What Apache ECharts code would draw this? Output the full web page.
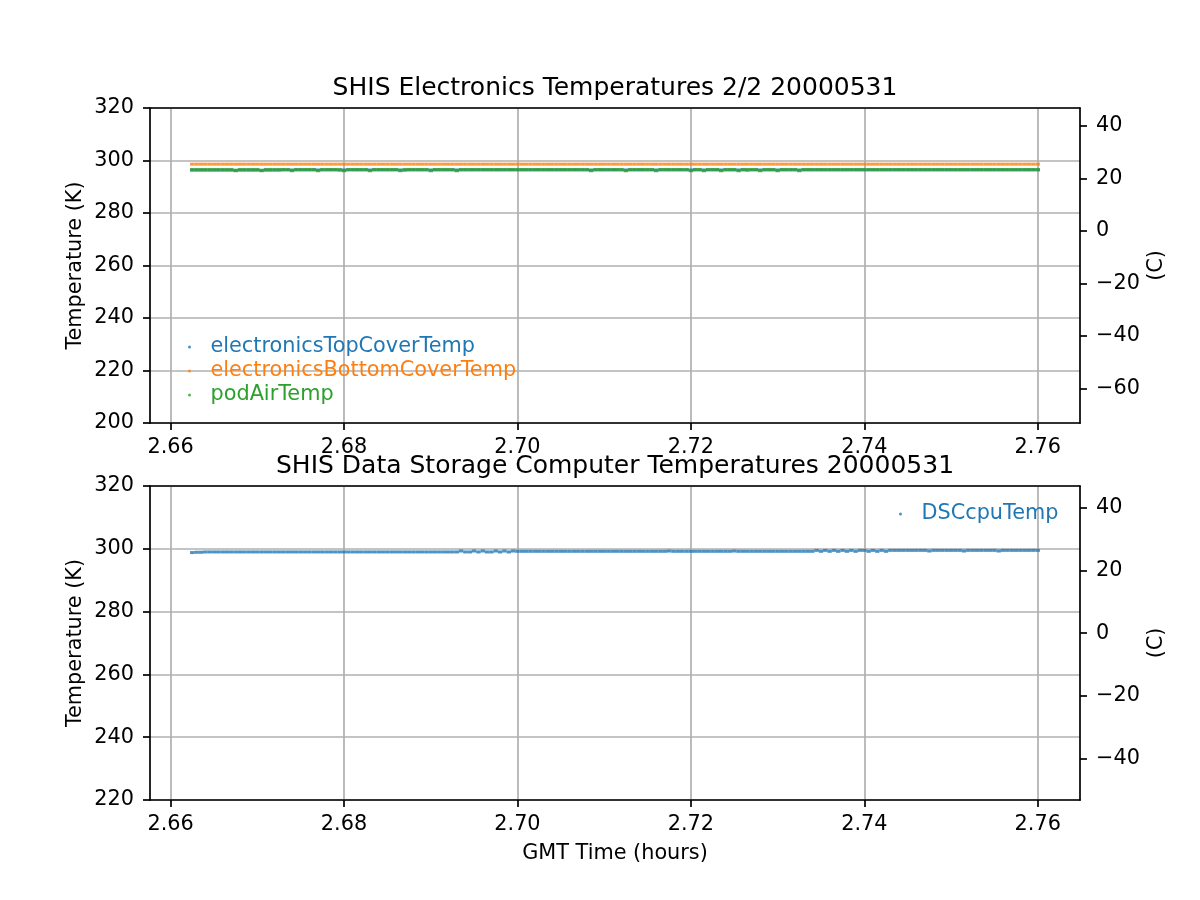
<!DOCTYPE html>
<html>
<head>
<meta charset="utf-8">
<script src="https://cdn.jsdelivr.net/npm/echarts@6/dist/echarts.min.js"></script>
<style>html,body{margin:0;padding:0;background:#fff;}#chart{width:1200px;height:900px;}</style>
</head>
<body>
<div id="chart"></div>
<script>
// ---------- DATA ----------
const titleTop = 'SHIS Electronics Temperatures 2/2 20000531';
const titleBottom = 'SHIS Data Storage Computer Temperatures 20000531';
const xName = 'GMT Time (hours)';
const yNameK = 'Temperature (K)';
const yNameC = '(C)';

const xTicks = [2.66, 2.68, 2.70, 2.72, 2.74, 2.76];
const kTicksTop = [200, 220, 240, 260, 280, 300, 320];
const cTicksTop = [-60, -40, -20, 0, 20, 40];
const kTicksBottom = [220, 240, 260, 280, 300, 320];
const cTicksBottom = [-40, -20, 0, 20, 40];

const times = [
2.6625,2.6630,2.6635,2.6640,2.6645,2.6650,2.6655,2.6660,2.6665,2.6670,
2.6675,2.6680,2.6685,2.6690,2.6695,2.6700,2.6705,2.6710,2.6715,2.6720,
2.6725,2.6730,2.6735,2.6740,2.6745,2.6750,2.6755,2.6760,2.6765,2.6770,
2.6775,2.6780,2.6785,2.6790,2.6795,2.6800,2.6805,2.6810,2.6815,2.6820,
2.6825,2.6830,2.6835,2.6840,2.6845,2.6850,2.6855,2.6860,2.6865,2.6870,
2.6875,2.6880,2.6885,2.6890,2.6895,2.6900,2.6905,2.6910,2.6915,2.6920,
2.6925,2.6930,2.6935,2.6940,2.6945,2.6950,2.6955,2.6960,2.6965,2.6970,
2.6975,2.6980,2.6985,2.6990,2.6995,2.7000,2.7005,2.7010,2.7015,2.7020,
2.7025,2.7030,2.7035,2.7040,2.7045,2.7050,2.7055,2.7060,2.7065,2.7070,
2.7075,2.7080,2.7085,2.7090,2.7095,2.7100,2.7105,2.7110,2.7115,2.7120,
2.7125,2.7130,2.7135,2.7140,2.7145,2.7150,2.7155,2.7160,2.7165,2.7170,
2.7175,2.7180,2.7185,2.7190,2.7195,2.7200,2.7205,2.7210,2.7215,2.7220,
2.7225,2.7230,2.7235,2.7240,2.7245,2.7250,2.7255,2.7260,2.7265,2.7270,
2.7275,2.7280,2.7285,2.7290,2.7295,2.7300,2.7305,2.7310,2.7315,2.7320,
2.7325,2.7330,2.7335,2.7340,2.7345,2.7350,2.7355,2.7360,2.7365,2.7370,
2.7375,2.7380,2.7385,2.7390,2.7395,2.7400,2.7405,2.7410,2.7415,2.7420,
2.7425,2.7430,2.7435,2.7440,2.7445,2.7450,2.7455,2.7460,2.7465,2.7470,
2.7475,2.7480,2.7485,2.7490,2.7495,2.7500,2.7505,2.7510,2.7515,2.7520,
2.7525,2.7530,2.7535,2.7540,2.7545,2.7550,2.7555,2.7560,2.7565,2.7570,
2.7575,2.7580,2.7585,2.7590,2.7595,2.7600
];

const topCoverTemp = [
296.3,296.3,296.3,296.3,296.3,296.3,296.3,296.3,296.3,296.3,
296.3,296.3,296.3,296.3,296.3,296.3,296.3,296.3,296.3,296.3,
296.3,296.4,296.4,296.4,296.4,296.4,296.4,296.4,296.4,296.4,
296.4,296.4,296.4,296.4,296.3,296.4,296.4,296.4,296.4,296.4,
296.4,296.4,296.4,296.4,296.4,296.4,296.4,296.4,296.4,296.3,
296.4,296.4,296.4,296.4,296.4,296.4,296.4,296.4,296.4,296.4,
296.4,296.4,296.4,296.4,296.4,296.4,296.4,296.4,296.4,296.4,
296.4,296.4,296.4,296.4,296.4,296.4,296.4,296.4,296.4,296.4,
296.4,296.4,296.4,296.4,296.4,296.4,296.4,296.4,296.4,296.4,
296.4,296.4,296.4,296.4,296.4,296.4,296.4,296.4,296.4,296.4,
296.4,296.4,296.4,296.4,296.4,296.4,296.4,296.4,296.4,296.4,
296.4,296.4,296.4,296.4,296.4,296.4,296.4,296.4,296.4,296.4,
296.4,296.4,296.4,296.4,296.4,296.4,296.4,296.4,296.3,296.4,
296.4,296.4,296.4,296.4,296.4,296.4,296.4,296.4,296.4,296.4,
296.4,296.4,296.4,296.4,296.4,296.4,296.4,296.4,296.4,296.4,
296.4,296.4,296.4,296.4,296.4,296.4,296.4,296.4,296.4,296.4,
296.4,296.4,296.4,296.4,296.4,296.4,296.4,296.4,296.4,296.4,
296.4,296.4,296.4,296.4,296.4,296.4,296.4,296.4,296.4,296.4,
296.4,296.4,296.4,296.4,296.4,296.4,296.4,296.4,296.4,296.4,
296.4,296.4,296.4,296.4,296.4,296.4
];

const bottomCoverTemp = [
298.6,298.6,298.6,298.6,298.6,298.6,298.6,298.6,298.6,298.6,
298.6,298.6,298.6,298.6,298.6,298.6,298.6,298.6,298.6,298.6,
298.6,298.6,298.6,298.6,298.6,298.6,298.6,298.6,298.6,298.6,
298.6,298.6,298.6,298.6,298.6,298.6,298.6,298.6,298.6,298.6,
298.6,298.6,298.6,298.6,298.6,298.6,298.6,298.6,298.6,298.6,
298.6,298.6,298.6,298.6,298.6,298.6,298.6,298.6,298.6,298.6,
298.6,298.6,298.6,298.6,298.6,298.6,298.6,298.6,298.6,298.6,
298.6,298.6,298.6,298.6,298.6,298.6,298.6,298.6,298.6,298.6,
298.6,298.6,298.6,298.6,298.6,298.6,298.6,298.6,298.6,298.6,
298.6,298.6,298.6,298.6,298.6,298.6,298.6,298.6,298.6,298.6,
298.6,298.6,298.6,298.6,298.6,298.6,298.6,298.6,298.6,298.6,
298.6,298.6,298.6,298.6,298.6,298.6,298.6,298.6,298.6,298.6,
298.6,298.6,298.6,298.6,298.6,298.6,298.6,298.6,298.6,298.6,
298.6,298.6,298.6,298.6,298.6,298.6,298.6,298.6,298.6,298.6,
298.6,298.6,298.6,298.6,298.6,298.6,298.6,298.6,298.6,298.6,
298.6,298.6,298.6,298.6,298.6,298.6,298.6,298.6,298.6,298.6,
298.6,298.6,298.6,298.6,298.6,298.6,298.6,298.6,298.6,298.6,
298.6,298.6,298.6,298.6,298.6,298.6,298.6,298.6,298.6,298.6,
298.6,298.6,298.6,298.6,298.6,298.6,298.6,298.6,298.6,298.6,
298.6,298.6,298.6,298.6,298.6,298.6
];

const podAirTemp = [
296.6,296.6,296.6,296.6,296.6,296.6,296.6,296.6,296.6,296.6,
296.1,296.6,296.6,296.6,296.6,296.6,296.1,296.6,296.6,296.6,
296.6,296.6,296.6,296.1,296.6,296.6,296.6,296.6,296.6,296.1,
296.6,296.6,296.6,296.6,296.6,296.1,296.6,296.6,296.6,296.6,
296.6,296.1,296.6,296.6,296.6,296.6,296.6,296.6,296.1,296.6,
296.6,296.6,296.6,296.6,296.6,296.1,296.6,296.6,296.6,296.6,
296.6,296.1,296.6,296.6,296.6,296.6,296.6,296.6,296.6,296.6,
296.6,296.6,296.6,296.6,296.6,296.6,296.6,296.6,296.6,296.6,
296.6,296.6,296.6,296.6,296.6,296.6,296.6,296.6,296.6,296.6,
296.6,296.6,296.1,296.6,296.6,296.6,296.6,296.6,296.6,296.6,
296.1,296.6,296.6,296.6,296.6,296.6,296.6,296.1,296.6,296.6,
296.6,296.6,296.6,296.6,296.6,296.1,296.6,296.6,296.1,296.6,
296.6,296.6,296.1,296.6,296.6,296.6,296.1,296.6,296.6,296.6,
296.6,296.1,296.6,296.6,296.6,296.1,296.6,296.6,296.6,296.6,
296.1,296.6,296.6,296.6,296.6,296.6,296.6,296.6,296.6,296.6,
296.6,296.6,296.6,296.6,296.6,296.6,296.6,296.6,296.6,296.6,
296.6,296.6,296.6,296.6,296.6,296.6,296.6,296.6,296.6,296.6,
296.6,296.6,296.6,296.6,296.6,296.6,296.6,296.6,296.6,296.6,
296.6,296.6,296.6,296.6,296.6,296.6,296.6,296.6,296.6,296.6,
296.6,296.6,296.6,296.6,296.6,296.6
];

const dscCpuTemp = [
298.8,298.9,298.9,299.0,299.0,299.0,299.0,299.0,299.0,299.0,
299.0,299.0,299.0,299.0,299.0,299.0,299.0,299.0,299.0,299.0,
299.0,299.0,299.0,299.0,299.0,299.0,299.0,299.0,299.0,299.0,
299.0,299.0,299.0,299.0,299.0,299.0,299.0,299.0,299.0,299.0,
299.0,299.0,299.0,299.0,299.0,299.0,299.0,299.0,299.0,299.0,
299.0,299.0,299.0,299.0,299.0,299.0,299.0,299.0,299.0,299.0,
299.0,299.0,299.3,299.0,299.0,299.3,299.0,299.3,299.0,299.0,
299.3,299.0,299.3,299.0,299.3,299.2,299.2,299.2,299.2,299.2,
299.2,299.2,299.2,299.2,299.2,299.2,299.2,299.2,299.2,299.2,
299.2,299.2,299.2,299.2,299.2,299.2,299.2,299.2,299.2,299.2,
299.2,299.2,299.2,299.2,299.2,299.2,299.2,299.2,299.2,299.2,
299.3,299.2,299.2,299.2,299.2,299.2,299.2,299.2,299.2,299.2,
299.2,299.2,299.2,299.2,299.2,299.3,299.2,299.2,299.2,299.2,
299.2,299.2,299.2,299.2,299.2,299.2,299.2,299.2,299.2,299.2,
299.2,299.2,299.2,299.2,299.5,299.2,299.5,299.2,299.5,299.2,
299.5,299.2,299.5,299.2,299.5,299.5,299.2,299.5,299.2,299.5,
299.2,299.5,299.5,299.5,299.5,299.5,299.5,299.5,299.5,299.5,
299.3,299.5,299.5,299.5,299.5,299.5,299.5,299.5,299.3,299.5,
299.5,299.5,299.5,299.5,299.5,299.5,299.3,299.5,299.5,299.5,
299.5,299.5,299.5,299.5,299.5,299.5
];

// ---------- CHART ----------
const FONT = 'DejaVu Sans';
const FS = 20.8;
const C_BLUE = '#1f77b4', C_ORANGE = '#ff7f0e', C_GREEN = '#2ca02c';
const K0 = 273.15;
const X_MIN = 2.657625, X_MAX = 2.764875;

const zip = (xs, ys) => xs.map((x, i) => [x, ys[i]]);
const minusFmt = v => { const r = Math.round(v); return (r < 0 ? '\u2212' : '') + Math.abs(r); };

const lblStyle = { color: '#000', fontSize: FS, fontFamily: FONT };
const axisLineStyle = { show: true, onZero: false, lineStyle: { color: '#000', width: 1.7 } };
const tickStyle = { color: '#000', width: 1.7 };
const gridLine = { show: true, lineStyle: { color: '#b0b0b0', width: 1.7 } };

function xAxisFor(gi, withName) {
  const ax = {
    gridIndex: gi, type: 'value', min: X_MIN, max: X_MAX, position: 'bottom',
    axisLine: axisLineStyle,
    axisTick: { show: true, customValues: xTicks, length: 7, lineStyle: tickStyle },
    axisLabel: Object.assign({ customValues: xTicks, margin: 14, formatter: v => v.toFixed(2) }, lblStyle),
    splitLine: gridLine
  };
  if (withName) {
    ax.name = xName; ax.nameLocation = 'middle'; ax.nameGap = 43; ax.nameMoveOverlap = false;
    ax.nameTextStyle = { color: '#000', fontSize: FS, fontFamily: FONT };
  }
  return ax;
}
function xAxisTopSpine(gi) {
  return {
    gridIndex: gi, type: 'value', min: X_MIN, max: X_MAX, position: 'top',
    axisLine: axisLineStyle, axisTick: { show: false }, axisLabel: { show: false }, splitLine: { show: false }
  };
}
function yAxisK(gi, min, max, ticks) {
  return {
    gridIndex: gi, type: 'value', min: min, max: max, interval: 20, position: 'left',
    name: yNameK, nameLocation: 'middle', nameGap: 64, nameRotate: 90, nameMoveOverlap: false,
    nameTextStyle: { color: '#000', fontSize: FS, fontFamily: FONT },
    axisLine: axisLineStyle,
    axisTick: { show: true, customValues: ticks, length: 7, lineStyle: tickStyle },
    axisLabel: Object.assign({ customValues: ticks, margin: 16 }, lblStyle),
    splitLine: gridLine
  };
}
function yAxisC(gi, minK, maxK, ticks) {
  return {
    gridIndex: gi, type: 'value', min: minK - K0, max: maxK - K0, position: 'right',
    name: yNameC, nameLocation: 'middle', nameGap: 66, nameRotate: 90, nameMoveOverlap: false,
    nameTextStyle: { color: '#000', fontSize: FS, fontFamily: FONT },
    axisLine: axisLineStyle,
    axisTick: { show: true, customValues: ticks, length: 7, lineStyle: tickStyle },
    axisLabel: Object.assign({ customValues: ticks, margin: 16, formatter: minusFmt }, lblStyle),
    splitLine: { show: false }
  };
}

const legendText = { fontSize: FS, fontFamily: FONT, lineHeight: 24, padding: 0 };
const scatterBase = { type: 'scatter', symbol: 'rect', symbolSize: [4.4, 3], silent: true, animation: false };

const option = {
  animation: false,
  backgroundColor: '#fff',
  graphic: [
    { type: 'text', x: 615, y: 88, style: { text: titleTop, font: '25px "DejaVu Sans"', fill: '#000', align: 'center', verticalAlign: 'middle', textAlign: 'center', textVerticalAlign: 'middle' } },
    { type: 'text', x: 615, y: 466, style: { text: titleBottom, font: '25px "DejaVu Sans"', fill: '#000', align: 'center', verticalAlign: 'middle', textAlign: 'center', textVerticalAlign: 'middle' } }
  ],
  grid: [
    { left: 150, top: 108, width: 930, height: 315 },
    { left: 150, top: 486, width: 930, height: 314 }
  ],
  xAxis: [ xAxisFor(0, false), xAxisFor(1, true), xAxisTopSpine(0), xAxisTopSpine(1) ],
  yAxis: [
    yAxisK(0, 200, 320, kTicksTop),
    yAxisC(0, 200, 320, cTicksTop),
    yAxisK(1, 220, 320, kTicksBottom),
    yAxisC(1, 220, 320, cTicksBottom)
  ],
  legend: [
    {
      left: 188, top: 335, orient: 'vertical', padding: 0, itemGap: 0,
      itemWidth: 32, itemHeight: 3, icon: 'circle', selectedMode: false,
      textStyle: legendText,
      data: [
        { name: 'electronicsTopCoverTemp', textStyle: { color: C_BLUE } },
        { name: 'electronicsBottomCoverTemp', textStyle: { color: C_ORANGE } },
        { name: 'podAirTemp', textStyle: { color: C_GREEN } }
      ]
    },
    {
      left: 899, top: 502, orient: 'vertical', padding: 0, itemGap: 0,
      itemWidth: 32, itemHeight: 3, icon: 'circle', selectedMode: false,
      textStyle: legendText,
      data: [ { name: 'DSCcpuTemp', textStyle: { color: C_BLUE } } ]
    }
  ],
  series: [
    Object.assign({}, scatterBase, { name: 'electronicsTopCoverTemp', xAxisIndex: 0, yAxisIndex: 0, itemStyle: { color: C_BLUE }, data: zip(times, topCoverTemp) }),
    Object.assign({}, scatterBase, { name: 'electronicsBottomCoverTemp', xAxisIndex: 0, yAxisIndex: 0, itemStyle: { color: C_ORANGE }, data: zip(times, bottomCoverTemp) }),
    Object.assign({}, scatterBase, { name: 'podAirTemp', xAxisIndex: 0, yAxisIndex: 0, itemStyle: { color: C_GREEN }, data: zip(times, podAirTemp) }),
    Object.assign({}, scatterBase, { name: 'DSCcpuTemp', xAxisIndex: 1, yAxisIndex: 2, itemStyle: { color: C_BLUE }, data: zip(times, dscCpuTemp) })
  ]
};

const chart = echarts.init(document.getElementById('chart'), null, { renderer: 'canvas', width: 1200, height: 900 });
chart.setOption(option);
</script>
</body>
</html>
